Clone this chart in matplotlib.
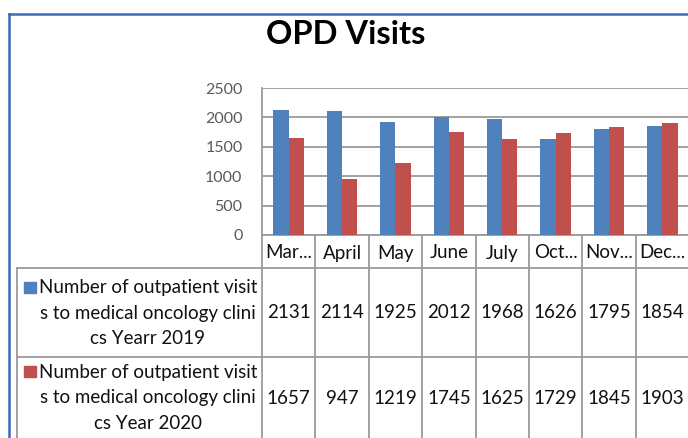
import matplotlib
matplotlib.use("Agg")
import matplotlib.pyplot as plt
import matplotlib.transforms as mtransforms
from matplotlib.patches import Rectangle
import numpy as np

# ---- data ----
categories = ["Mar...", "April", "May", "June", "July", "Oct...", "Nov...", "Dec..."]
visits_2019 = [2131, 2114, 1925, 2012, 1968, 1626, 1795, 1854]
visits_2020 = [1657, 947, 1219, 1745, 1625, 1729, 1845, 1903]
series_names = [
    "Number of outpatient visit\ns to medical oncology clini\ncs Yearr 2019",
    "Number of outpatient visit\ns to medical oncology clini\ncs Year 2020",
]
yticks = [0, 500, 1000, 1500, 2000, 2500]
title = "OPD Visits"

BLUE = "#4F81BD"
RED = "#C0504D"
GRID = "#9A9A9A"
FONT = "Lato"

W, H = 688, 438
fig = plt.figure(figsize=(W / 100, H / 100), dpi=100)
fig.patch.set_facecolor("white")

# overlay in pixel coordinates (y down)
ov = fig.add_axes([0, 0, 1, 1], zorder=0)
ov.set_xlim(0, W)
ov.set_ylim(H, 0)
ov.axis("off")

# chart axes
left, right, top, bottom = 262, 689, 88, 235
ax = fig.add_axes([left / W, 1 - bottom / H, (right - left) / W, (bottom - top) / H], zorder=1)
ax.patch.set_alpha(0)
x = np.arange(len(categories))
bw = 0.285
ax.bar(x - bw / 2, visits_2019, bw, color=BLUE, zorder=3)
ax.bar(x + bw / 2, visits_2020, bw, color=RED, zorder=3)
ax.set_xlim(-0.5, len(categories) - 0.5)
ax.set_ylim(0, 2500)
ax.set_yticks(yticks)
ax.set_yticklabels([str(t) for t in yticks], fontfamily=FONT, fontsize=11.5, color="#595959")
ax.set_xticks([])
ax.tick_params(axis="y", length=0, pad=14)
ax.yaxis.grid(True, color=GRID, linewidth=1.3, zorder=0)
for s in ["top", "right"]:
    ax.spines[s].set_visible(False)
ax.spines["left"].set_color(GRID)
ax.spines["left"].set_linewidth(1.3)
ax.spines["bottom"].set_color(GRID)
ax.spines["bottom"].set_linewidth(1.3)

# blended transform: x from category data, y from pixels
bt = mtransforms.blended_transform_factory(ax.transData, ov.transData)

lc = GRID
lw = 1.3
# table lines
ov.plot([left, left], [bottom, H + 5], color=lc, lw=lw, clip_on=False)
for i in range(len(categories)):
    ov.plot([i + 0.5, i + 0.5], [bottom, H + 5], color=lc, lw=lw, transform=bt, clip_on=False)
ov.plot([17, W + 5], [268, 268], color=lc, lw=lw, clip_on=False)
ov.plot([17, W + 5], [357, 357], color=lc, lw=lw, clip_on=False)
ov.plot([17, 17], [268, H + 5], color=lc, lw=lw, clip_on=False)

# header labels
for i, c in enumerate(categories):
    ov.text(i, 253, c, transform=bt, ha="center", va="center",
            fontfamily=FONT, fontsize=13.5, color="#111111")

# values
row_y = [313, 398]
for vals, ry in zip([visits_2019, visits_2020], row_y):
    for i, v in enumerate(vals):
        ov.text(i, ry, str(v), transform=bt, ha="center", va="center",
                fontfamily=FONT, fontsize=13.5, color="#111111")

# row labels with legend keys
key_y = [282, 366]
for name, ry, ky, col in zip(series_names, row_y, key_y, [BLUE, RED]):
    ov.add_patch(Rectangle((24, ky), 12, 11, color=col))
    ov.text(148, ry, name, ha="center", va="center", multialignment="center",
            fontfamily=FONT, fontsize=13.5, color="#111111", linespacing=1.6)

# title
ov.text(346, 34, title, ha="center", va="center", fontfamily=FONT,
        fontweight="bold", fontsize=23.5, color="black")

# outer border
BORDER = "#3E68B2"
ov.plot([9, 9], [14, H + 5], color=BORDER, lw=1.8, clip_on=False)
ov.plot([9, W + 5], [14, 14], color=BORDER, lw=1.8, clip_on=False)

fig.savefig("out.png", dpi=100)
